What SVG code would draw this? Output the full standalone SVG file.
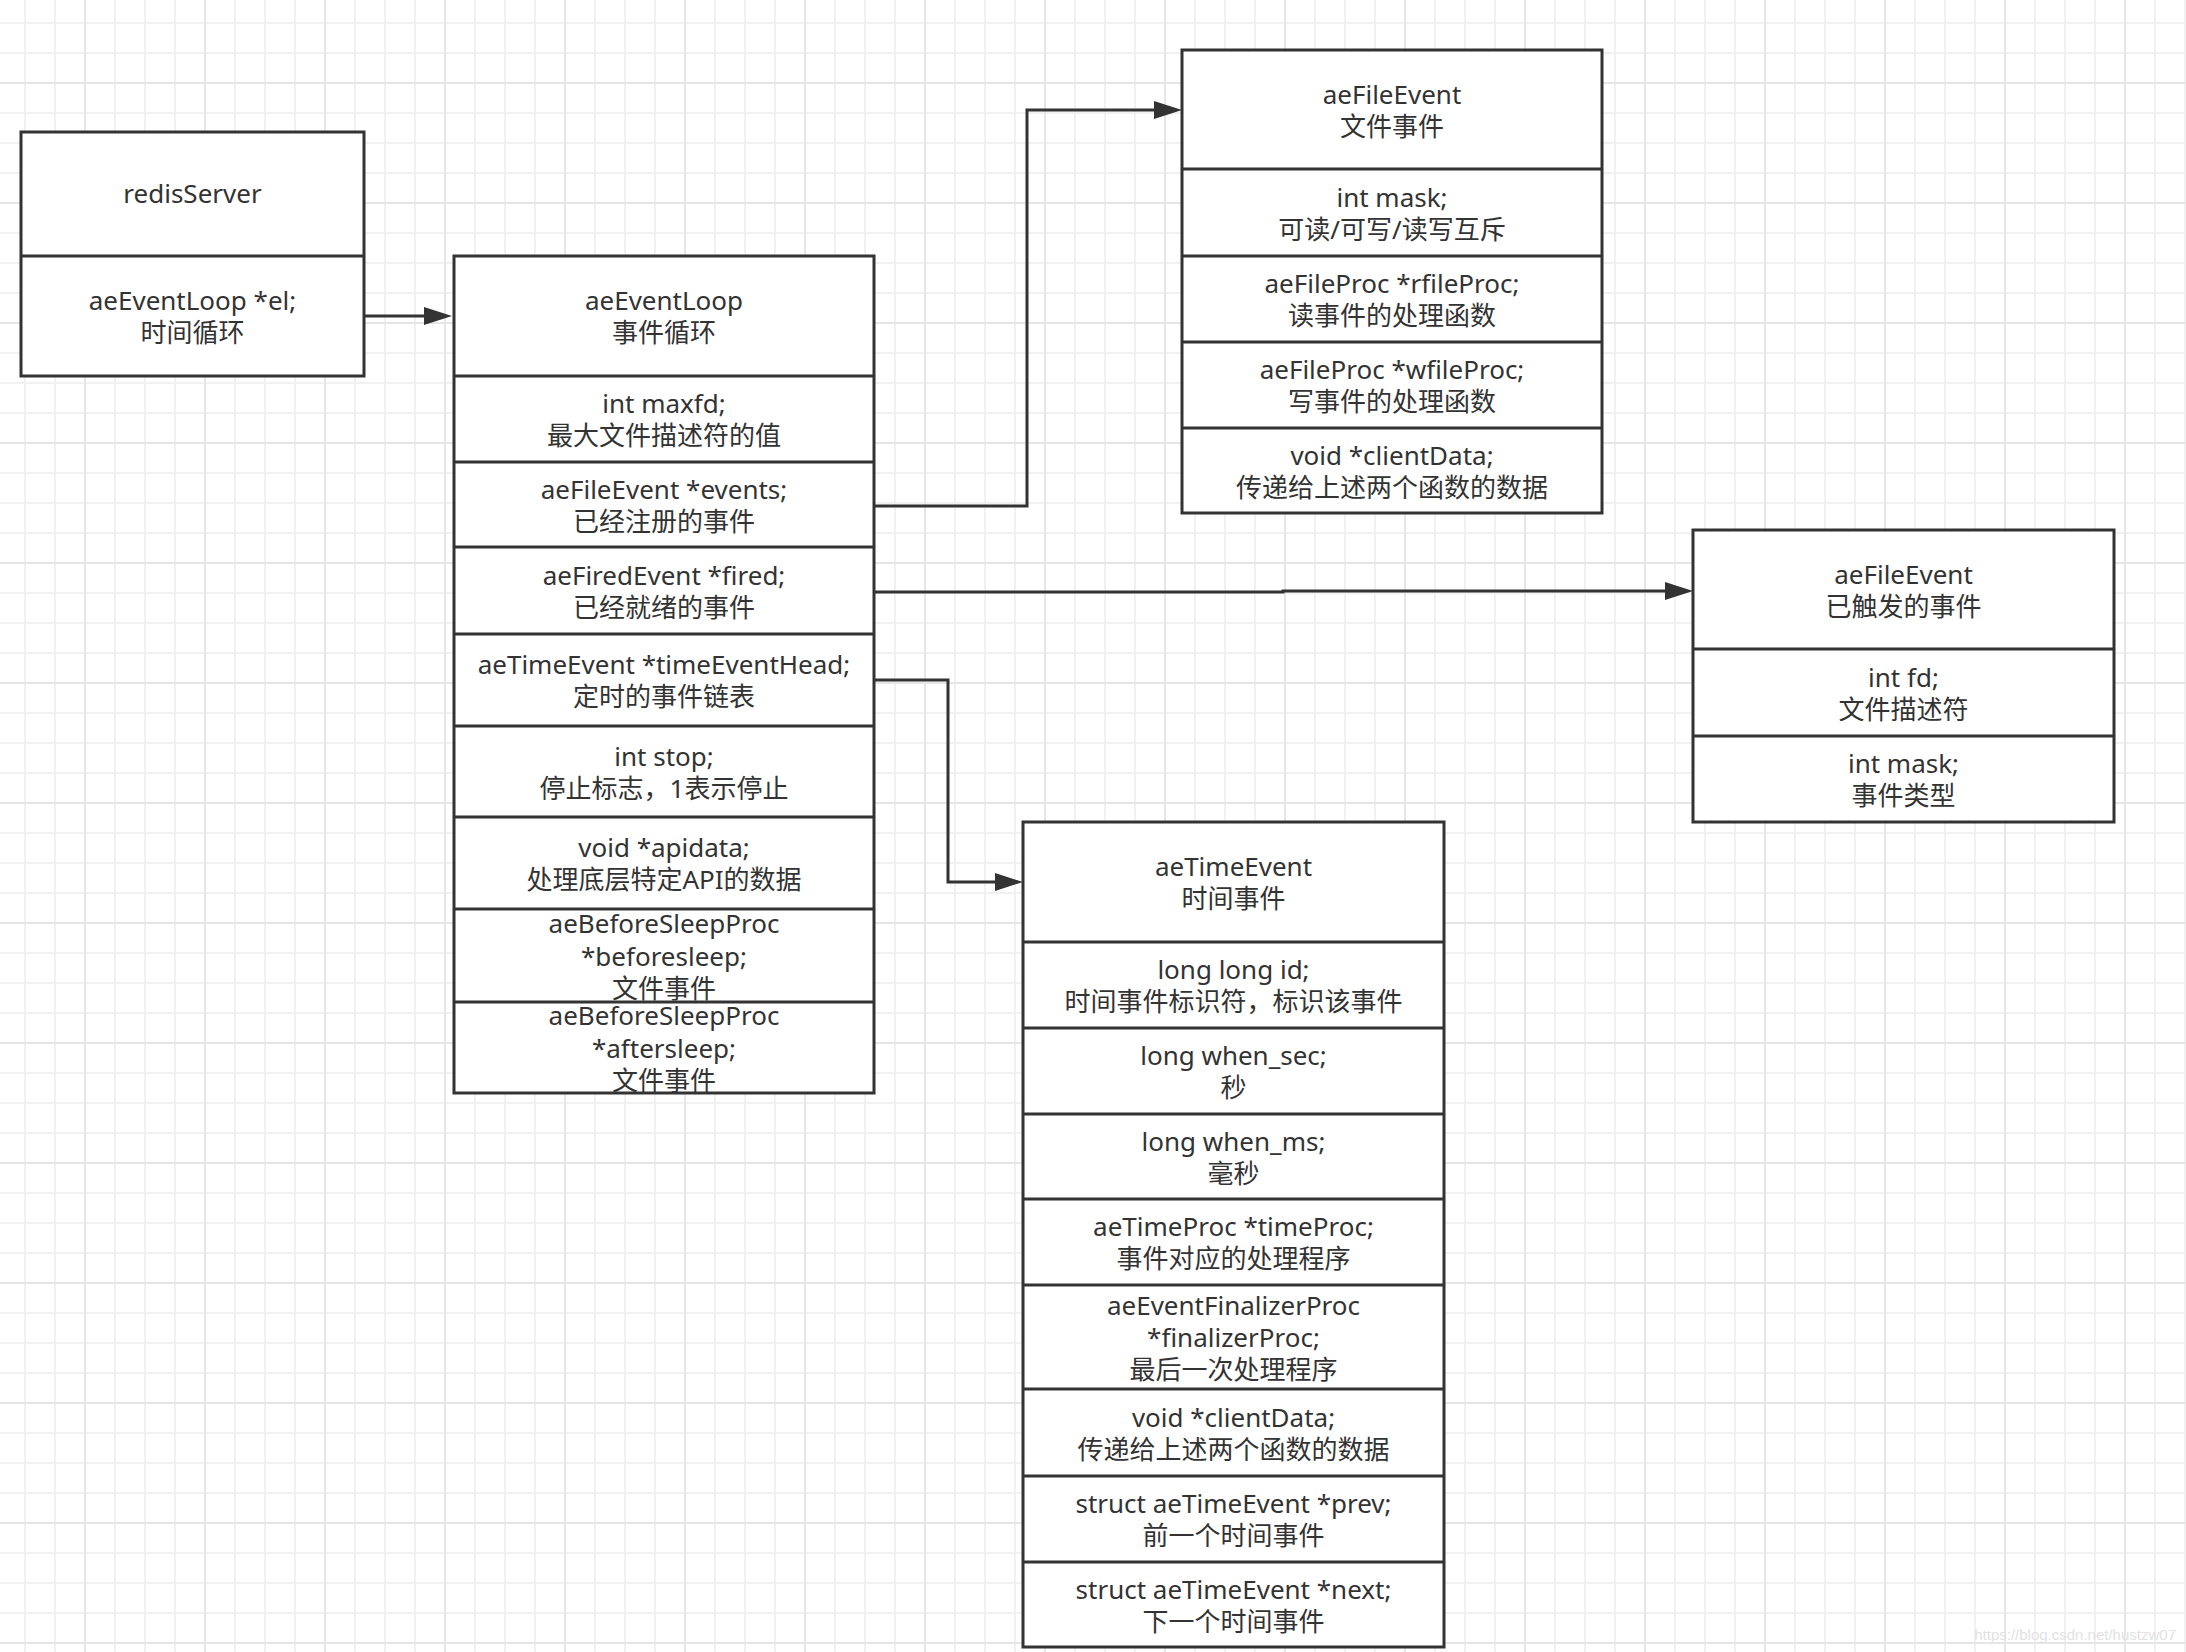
<svg xmlns="http://www.w3.org/2000/svg" width="2186" height="1652" viewBox="0 0 2186 1652">
<style>
.bg{fill:#ffffff;stroke:none}
.box{fill:none;stroke:#333333;stroke-width:3}
.div{fill:none;stroke:#333333;stroke-width:3}
.t{font-family:"Noto Sans","Noto Sans CJK SC",sans-serif;font-size:26px;fill:#333333;text-anchor:middle}
.edge{fill:none;stroke:#333333;stroke-width:3}
.wm{font-family:"Liberation Sans",Arial,sans-serif;font-size:15px;fill:#e2e2e2;text-anchor:end}
</style>
<defs>
<pattern id="minor" patternUnits="userSpaceOnUse" x="24" y="22" width="30" height="30">
<rect x="0" y="0" width="2" height="30" fill="#f1f1f1"/>
<rect x="0" y="0" width="30" height="2" fill="#f1f1f1"/>
</pattern>
<pattern id="major" patternUnits="userSpaceOnUse" x="84" y="82" width="120" height="120">
<rect x="0" y="0" width="2" height="120" fill="#e6e6e6"/>
<rect x="0" y="0" width="120" height="2" fill="#e6e6e6"/>
</pattern>
<marker id="arrow" markerUnits="userSpaceOnUse" viewBox="0 0 28 18" refX="18" refY="9" markerWidth="28" markerHeight="18" orient="auto">
<path d="M0,0 L28,9 L0,18 Z" fill="#333333"/>
</marker>
</defs>
<rect x="0" y="0" width="2186" height="1652" fill="#ffffff"/>
<rect x="0" y="0" width="2186" height="1652" fill="url(#minor)"/>
<rect x="0" y="0" width="2186" height="1652" fill="url(#major)"/>

<g id="connectors">
<path class="edge" d="M364,316 H442" marker-end="url(#arrow)"/>
<path class="edge" d="M874,506 H1027 V110 H1172" marker-end="url(#arrow)"/>
<path class="edge" d="M874,592 H1283 V591 H1683" marker-end="url(#arrow)"/>
<path class="edge" d="M874,680 H948 V882 H1013" marker-end="url(#arrow)"/>
</g>

<g id="redisServer">
<rect class="bg" x="21" y="132" width="343" height="244"/>
<text class="t" x="192.5" y="203">redisServer</text>
<text class="t"><tspan x="192.5" y="310">aeEventLoop *el;</tspan><tspan x="192.5" y="342">时间循环</tspan></text>
<path class="div" d="M21,256 H364"/>
<rect class="box" x="21" y="132" width="343" height="244"/>
</g>

<g id="aeEventLoop">
<rect class="bg" x="454" y="256" width="420" height="837"/>
<text class="t"><tspan x="664" y="310">aeEventLoop</tspan><tspan x="664" y="342">事件循环</tspan></text>
<text class="t"><tspan x="664" y="413">int maxfd;</tspan><tspan x="664" y="445">最大文件描述符的值</tspan></text>
<text class="t"><tspan x="664" y="498.5">aeFileEvent *events;</tspan><tspan x="664" y="530.5">已经注册的事件</tspan></text>
<text class="t"><tspan x="664" y="584.5">aeFiredEvent *fired;</tspan><tspan x="664" y="616.5">已经就绪的事件</tspan></text>
<text class="t"><tspan x="664" y="674">aeTimeEvent *timeEventHead;</tspan><tspan x="664" y="706">定时的事件链表</tspan></text>
<text class="t"><tspan x="664" y="765.5">int stop;</tspan><tspan x="664" y="797.5">停止标志，1表示停止</tspan></text>
<text class="t"><tspan x="664" y="857">void *apidata;</tspan><tspan x="664" y="889">处理底层特定API的数据</tspan></text>
<text class="t"><tspan x="664" y="933">aeBeforeSleepProc</tspan><tspan x="664" y="966">*beforesleep;</tspan><tspan x="664" y="998">文件事件</tspan></text>
<text class="t"><tspan x="664" y="1025">aeBeforeSleepProc</tspan><tspan x="664" y="1058">*aftersleep;</tspan><tspan x="664" y="1090">文件事件</tspan></text>
<path class="div" d="M454,376 H874 M454,462 H874 M454,547 H874 M454,634 H874 M454,726 H874 M454,817 H874 M454,909 H874 M454,1002 H874"/>
<rect class="box" x="454" y="256" width="420" height="837"/>
</g>

<g id="aeFileEvent">
<rect class="bg" x="1182" y="50" width="420" height="463"/>
<text class="t"><tspan x="1392" y="103.5">aeFileEvent</tspan><tspan x="1392" y="135.5">文件事件</tspan></text>
<text class="t"><tspan x="1392" y="206.5">int mask;</tspan><tspan x="1392" y="238.5">可读/可写/读写互斥</tspan></text>
<text class="t"><tspan x="1392" y="293">aeFileProc *rfileProc;</tspan><tspan x="1392" y="325">读事件的处理函数</tspan></text>
<text class="t"><tspan x="1392" y="379">aeFileProc *wfileProc;</tspan><tspan x="1392" y="411">写事件的处理函数</tspan></text>
<text class="t"><tspan x="1392" y="464.5">void *clientData;</tspan><tspan x="1392" y="496.5">传递给上述两个函数的数据</tspan></text>
<path class="div" d="M1182,169 H1602 M1182,256 H1602 M1182,342 H1602 M1182,428 H1602"/>
<rect class="box" x="1182" y="50" width="420" height="463"/>
</g>

<g id="aeFiredEvent">
<rect class="bg" x="1693" y="530" width="421" height="292"/>
<text class="t"><tspan x="1903.5" y="583.5">aeFileEvent</tspan><tspan x="1903.5" y="615.5">已触发的事件</tspan></text>
<text class="t"><tspan x="1903.5" y="686.5">int fd;</tspan><tspan x="1903.5" y="718.5">文件描述符</tspan></text>
<text class="t"><tspan x="1903.5" y="773">int mask;</tspan><tspan x="1903.5" y="805">事件类型</tspan></text>
<path class="div" d="M1693,649 H2114 M1693,736 H2114"/>
<rect class="box" x="1693" y="530" width="421" height="292"/>
</g>

<g id="aeTimeEvent">
<rect class="bg" x="1023" y="822" width="421" height="825"/>
<text class="t"><tspan x="1233.5" y="876">aeTimeEvent</tspan><tspan x="1233.5" y="908">时间事件</tspan></text>
<text class="t"><tspan x="1233.5" y="979">long long id;</tspan><tspan x="1233.5" y="1011">时间事件标识符，标识该事件</tspan></text>
<text class="t"><tspan x="1233.5" y="1065">long when_sec;</tspan><tspan x="1233.5" y="1097">秒</tspan></text>
<text class="t"><tspan x="1233.5" y="1150.5">long when_ms;</tspan><tspan x="1233.5" y="1182.5">毫秒</tspan></text>
<text class="t"><tspan x="1233.5" y="1236">aeTimeProc *timeProc;</tspan><tspan x="1233.5" y="1268">事件对应的处理程序</tspan></text>
<text class="t"><tspan x="1233.5" y="1315">aeEventFinalizerProc</tspan><tspan x="1233.5" y="1347">*finalizerProc;</tspan><tspan x="1233.5" y="1379">最后一次处理程序</tspan></text>
<text class="t"><tspan x="1233.5" y="1426.5">void *clientData;</tspan><tspan x="1233.5" y="1458.5">传递给上述两个函数的数据</tspan></text>
<text class="t"><tspan x="1233.5" y="1513">struct aeTimeEvent *prev;</tspan><tspan x="1233.5" y="1545">前一个时间事件</tspan></text>
<text class="t"><tspan x="1233.5" y="1598.5">struct aeTimeEvent *next;</tspan><tspan x="1233.5" y="1630.5">下一个时间事件</tspan></text>
<path class="div" d="M1023,942 H1444 M1023,1028 H1444 M1023,1114 H1444 M1023,1199 H1444 M1023,1285 H1444 M1023,1389 H1444 M1023,1476 H1444 M1023,1562 H1444"/>
<rect class="box" x="1023" y="822" width="421" height="825"/>
</g>

<text class="wm" x="2176" y="1640">https://blog.csdn.net/hustzw07</text>
</svg>
